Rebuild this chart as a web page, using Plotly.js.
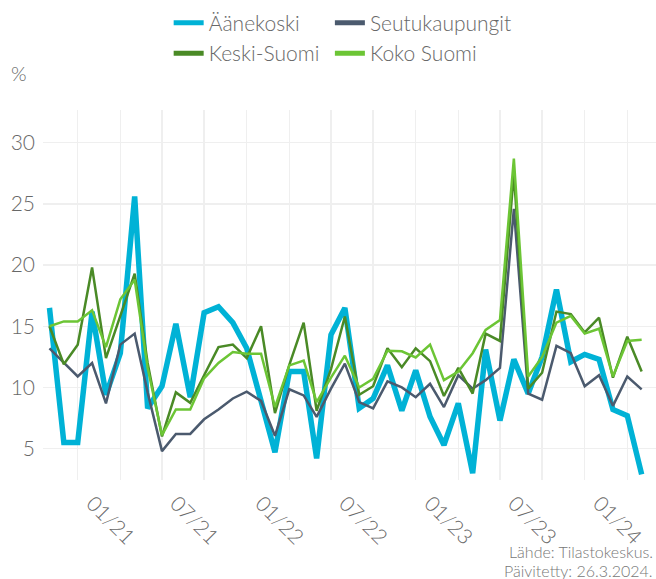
<!DOCTYPE html>
<html>
<head>
<meta charset="utf-8">
<script src="https://cdn.plot.ly/plotly-3.0.1.min.js"></script>
<style>
html,body{margin:0;padding:0;background:#fff;}
#chart{width:656px;height:579px;}
</style>
</head>
<body>
<div id="chart"></div>
<script>
// Months 08/2020 .. 02/2024
const months = [
  '2020-08-01','2020-09-01','2020-10-01','2020-11-01','2020-12-01',
  '2021-01-01','2021-02-01','2021-03-01','2021-04-01','2021-05-01','2021-06-01',
  '2021-07-01','2021-08-01','2021-09-01','2021-10-01','2021-11-01','2021-12-01',
  '2022-01-01','2022-02-01','2022-03-01','2022-04-01','2022-05-01','2022-06-01',
  '2022-07-01','2022-08-01','2022-09-01','2022-10-01','2022-11-01','2022-12-01',
  '2023-01-01','2023-02-01','2023-03-01','2023-04-01','2023-05-01','2023-06-01',
  '2023-07-01','2023-08-01','2023-09-01','2023-10-01','2023-11-01','2023-12-01',
  '2024-01-01','2024-02-01'
];

const aanekoski = [16.5,5.5,5.5,16.2,9.4,12.8,25.6,8.3,10.1,15.2,9.2,16.1,16.6,15.3,13.2,9.0,4.7,
  11.3,11.3,4.2,14.3,16.5,8.3,9.1,11.8,8.1,11.4,7.6,5.3,8.7,3.0,13.1,7.3,12.3,9.5,12.5,18.0,
  12.1,12.7,12.3,8.2,7.7,2.9];

const seutukaupungit = [13.2,12.0,10.9,12.0,8.7,13.5,14.4,9.6,4.8,6.2,6.2,7.4,8.2,9.1,9.65,8.9,6.05,
  9.85,9.35,7.6,9.9,11.95,8.8,8.3,10.5,10.0,9.2,10.3,8.4,11.0,9.9,10.6,11.6,24.6,9.5,9.0,13.4,
  12.8,10.1,11.0,8.5,10.9,9.85];

const keskiSuomi = [15.0,11.9,13.5,19.8,12.4,15.8,19.3,12.0,6.0,9.6,8.75,11.0,13.3,13.5,12.4,15.0,7.9,
  11.85,15.3,8.1,11.5,15.8,9.4,10.1,13.2,11.65,13.2,12.15,9.3,11.6,9.5,14.4,13.8,27.5,9.9,11.2,16.2,
  16.0,14.5,15.7,10.8,14.15,11.3];

const kokoSuomi = [15.0,15.4,15.4,16.3,13.3,17.2,18.8,11.6,6.1,8.2,8.2,10.75,12.0,12.9,12.75,12.75,8.4,
  11.8,12.2,8.8,10.8,12.6,10.0,10.7,13.0,12.95,12.45,13.5,10.6,11.3,12.8,14.7,15.5,28.7,10.9,12.5,15.3,
  15.85,14.4,14.8,10.9,13.8,13.9];

const xTickVals = ['2020-10-01','2021-01-01','2021-04-01','2021-07-01','2021-10-01','2022-01-01',
  '2022-04-01','2022-07-01','2022-10-01','2023-01-01','2023-04-01','2023-07-01','2023-10-01','2024-01-01'];
const xTickText = ['','01/21','','07/21','','01/22','','07/22','','01/23','','07/23','','01/24'];
const yTickVals = [5,10,15,20,25,30];

const seriesNames = ['Äänekoski','Seutukaupungit','Keski-Suomi','Koko Suomi'];
const seriesColors = ['#00b2d6','#4b5a6e','#4a8a26','#6cc535'];
const seriesWidths = [5.5,2.5,2.5,2.5];
const seriesLegend = ['legend','legend2','legend','legend2'];
const seriesData = [aanekoski, seutukaupungit, keskiSuomi, kokoSuomi];

const FONT = 'Lato, "Open Sans", sans-serif';
const TXT = '#686868';

// data lines (not shown in legend)
const traces = seriesNames.map((n, i) => ({
  type: 'scatter', mode: 'lines',
  x: months, y: seriesData[i], name: n, showlegend: false,
  line: {color: seriesColors[i], width: seriesWidths[i]},
  hoverinfo: 'skip'
}));
// legend keys (thick swatches, no data)
seriesNames.forEach((n, i) => traces.push({
  type: 'scatter', mode: 'lines', x: [null], y: [null], name: n,
  legend: seriesLegend[i], showlegend: true,
  line: {color: seriesColors[i], width: 5}, hoverinfo: 'skip'
}));

const legendCommon = {
  orientation: 'v', yanchor: 'top', y: 1.29, xanchor: 'left',
  itemwidth: 30, tracegroupgap: 0, bgcolor: 'rgba(0,0,0,0)',
  font: {family: FONT, size: 21, color: TXT, weight: 300}
};

const layout = {
  width: 656, height: 579,
  margin: {l: 43, r: 0, t: 110, b: 99},
  paper_bgcolor: '#fff', plot_bgcolor: '#fff',
  font: {family: FONT, color: TXT, size: 20, weight: 300},
  showlegend: true,
  legend: Object.assign({}, legendCommon, {x: 0.205}),
  legend2: Object.assign({}, legendCommon, {x: 0.468}),
  xaxis: {
    type: 'date',
    range: ['2020-07-18','2024-03-03'],
    tickmode: 'array', tickvals: xTickVals, ticktext: xTickText,
    tickangle: 45, ticks: '', ticklabelshift: -28, ticklabelstandoff: 6,
    showgrid: true, gridcolor: '#efefef', gridwidth: 1.5,
    zeroline: false, showline: false,
    tickfont: {family: FONT, size: 21, color: TXT, weight: 300},
    fixedrange: true
  },
  yaxis: {
    range: [2.44, 32.67],
    tickmode: 'array', tickvals: yTickVals,
    ticks: '', ticklabelstandoff: 7,
    showgrid: true, gridcolor: '#efefef', gridwidth: 1.5,
    zeroline: false, showline: false,
    tickfont: {family: FONT, size: 21, color: TXT, weight: 300},
    fixedrange: true
  },
  annotations: [
    {text: '%', xref: 'paper', yref: 'paper', x: 0, y: 1, xshift: -34, yshift: 37,
     xanchor: 'left', yanchor: 'middle', showarrow: false,
     font: {family: FONT, size: 20, color: TXT, weight: 300}},
    {text: 'Lähde: Tilastokeskus.', xref: 'paper', yref: 'paper',
     x: 1, y: 0, xshift: -2, yshift: -71, xanchor: 'right', yanchor: 'middle', align: 'right',
     height: 17, borderpad: 0, valign: 'middle',
     showarrow: false, font: {family: FONT, size: 16, color: '#777', weight: 300}},
    {text: 'Päivitetty: 26.3.2024.', xref: 'paper', yref: 'paper',
     x: 1, y: 0, xshift: -2, yshift: -90, xanchor: 'right', yanchor: 'middle', align: 'right',
     height: 17, borderpad: 0, valign: 'middle',
     showarrow: false, font: {family: FONT, size: 16, color: '#777', weight: 300}}
  ]
};

Plotly.newPlot('chart', traces, layout, {displayModeBar: false, staticPlot: true});
</script>
</body>
</html>
